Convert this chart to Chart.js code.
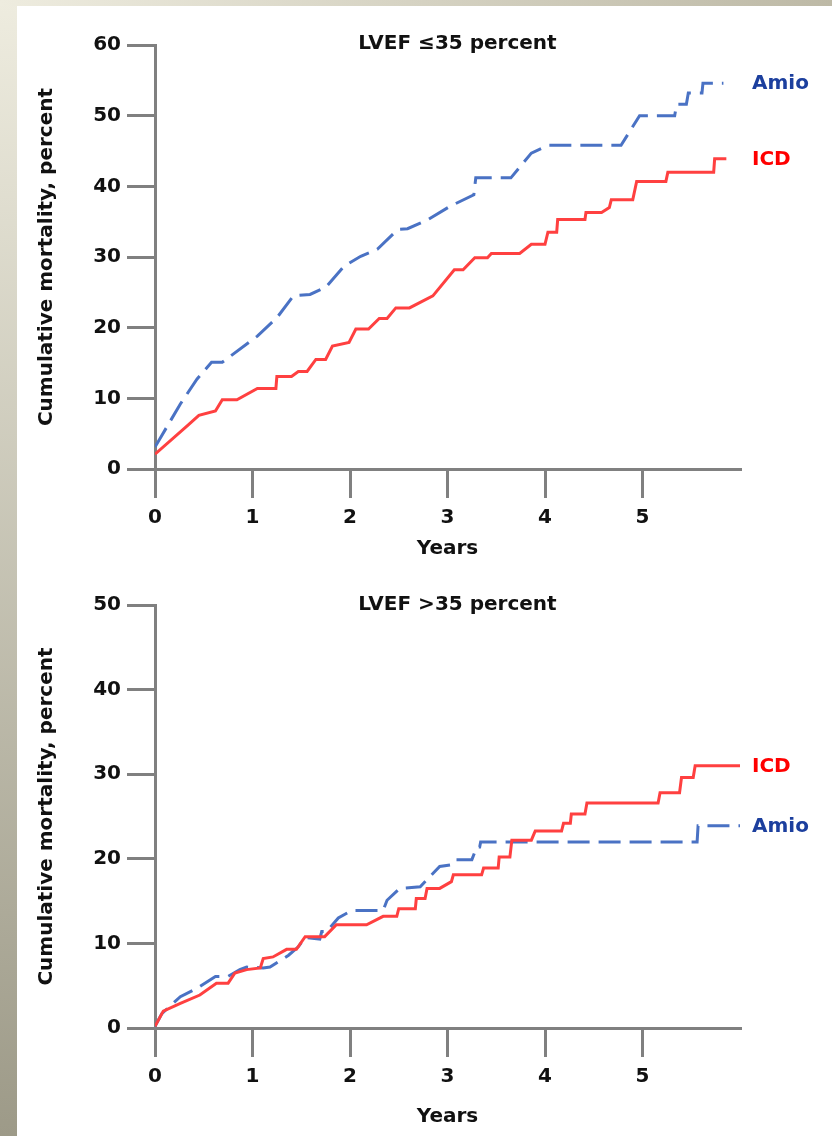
<!DOCTYPE html>
<html>
<head>
<meta charset="utf-8">
<script src="https://cdn.jsdelivr.net/npm/chart.js@4.4.1/dist/chart.umd.min.js"></script>
<style>
  html,body{margin:0;padding:0;}
  body{width:832px;height:1136px;position:relative;overflow:hidden;
       background:linear-gradient(to bottom,#eeecdf,#9d9a88);}
  #topstrip{position:absolute;left:0;top:0;width:832px;height:6px;
       background:linear-gradient(to right,#eeecdf,#bdb9a6);}
  #panel{position:absolute;left:17px;top:6px;width:815px;height:1130px;background:#fff;}
  canvas{position:absolute;left:0;}
</style>
</head>
<body>
<div id="topstrip"></div>
<div id="panel"></div>
<canvas id="c1" width="832" height="568" style="top:0"></canvas>
<canvas id="c2" width="832" height="568" style="top:568px"></canvas>
<script>
// ---------- DATA ----------
const xTicks = [0, 1, 2, 3, 4, 5];
const seriesNames = ["Amio", "ICD"];
const titleTop = "LVEF \u226435 percent";
const titleBottom = "LVEF >35 percent";
const yTitle = "Cumulative mortality, percent";
const xTitle = "Years";

// LVEF <=35 percent
const topAmioYears = [0,0.26,0.43,0.58,0.69,0.98,1.05,1.25,1.42,1.59,1.75,1.94,2.11,2.28,2.49,2.59,2.80,3.03,3.27,3.29,3.65,3.86,4.03,4.78,4.97,5.33,5.35,5.45,5.47,5.61,5.62,5.83];
const topAmioMort  = [3.1,9.2,12.7,15.1,15.1,18.1,18.8,21.4,24.5,24.7,25.7,28.7,30.1,31.1,33.9,34.0,35.3,37.2,38.8,41.2,41.2,44.7,45.8,45.8,50.0,50.0,51.6,51.6,53.2,53.2,54.6,54.6];
const topICDYears  = [0,0.33,0.45,0.62,0.69,0.84,1.05,1.24,1.25,1.40,1.47,1.56,1.65,1.75,1.82,1.99,2.06,2.19,2.30,2.38,2.47,2.61,2.85,3.07,3.16,3.28,3.41,3.45,3.74,3.86,4.00,4.03,4.12,4.13,4.41,4.42,4.58,4.66,4.68,4.90,4.94,5.24,5.26,5.73,5.74,5.86];
const topICDMort   = [2.1,6.1,7.6,8.2,9.8,9.8,11.4,11.4,13.1,13.1,13.8,13.8,15.5,15.5,17.4,17.9,19.8,19.8,21.3,21.3,22.8,22.8,24.5,28.2,28.2,29.9,29.9,30.5,30.5,31.8,31.8,33.5,33.5,35.3,35.3,36.3,36.3,37.0,38.1,38.1,40.7,40.7,42.0,42.0,43.9,43.9];

// LVEF >35 percent
const botAmioYears = [0,0.07,0.26,0.43,0.62,0.75,0.87,0.94,1.11,1.18,1.37,1.47,1.54,1.69,1.71,1.76,1.88,2.02,2.34,2.38,2.51,2.72,2.92,3.04,3.08,3.25,3.30,3.33,3.34,5.56,5.57,6.0];
const botAmioMort  = [0.2,1.7,3.7,4.7,6.1,6.1,6.9,7.2,7.1,7.2,8.6,9.6,10.7,10.5,11.4,11.4,13.0,13.9,13.9,15.1,16.5,16.7,19.1,19.3,19.9,19.9,21.4,21.4,22.0,22.0,23.9,23.9];
const botICDYears  = [0,0.085,0.26,0.46,0.63,0.75,0.82,0.94,1.08,1.11,1.21,1.35,1.45,1.54,1.74,1.86,2.17,2.34,2.48,2.50,2.67,2.68,2.77,2.79,2.92,3.04,3.06,3.35,3.37,3.52,3.53,3.64,3.66,3.86,3.90,4.17,4.19,4.26,4.27,4.41,4.43,5.16,5.18,5.38,5.40,5.52,5.54,6.0];
const botICDMort   = [0.2,2.0,2.9,3.9,5.3,5.3,6.5,6.9,7.1,8.2,8.4,9.3,9.3,10.8,10.8,12.2,12.2,13.2,13.2,14.1,14.1,15.3,15.3,16.5,16.5,17.3,18.1,18.1,18.9,18.9,20.2,20.2,22.2,22.2,23.3,23.3,24.2,24.2,25.3,25.3,26.6,26.6,27.8,27.8,29.6,29.6,31.0,31.0];

// ---------- RENDER ----------
const FONT = "'DejaVu Sans', Verdana, sans-serif";
const AXIS = "#808080";
const TEXT = "#111111";
const AMIO_LINE = "#4a72c4", AMIO_TEXT = "#1c3f9e";
const ICD_LINE = "#ff4040",  ICD_TEXT = "#ff0000";

function pts(xs, ys){ return xs.map((x,i)=>({x:x, y:ys[i]})); }

const annotPlugin = {
  id: 'annot',
  afterDraw(chart, args, opts){
    const {ctx, chartArea, scales} = chart;
    ctx.save();
    ctx.font = "bold 20px " + FONT;
    ctx.textBaseline = 'middle';
    ctx.textAlign = 'center';
    ctx.fillStyle = TEXT;
    ctx.fillText(opts.title, (chartArea.left + chartArea.right)/2 + 10, chartArea.top + opts.titleDy);
    ctx.textAlign = 'left';
    chart.data.datasets.forEach(ds=>{
      const last = ds.data[ds.data.length-1];
      ctx.fillStyle = ds.labelColor;
      ctx.fillText(ds.label, scales.x.getPixelForValue(6) + 12, scales.y.getPixelForValue(last.y) + 1);
    });
    ctx.restore();
  }
};

function makeChart(id, title, titleDy, ymax, padTop, xAxisH, datasets){
  return new Chart(document.getElementById(id), {
    type: 'line',
    data: { datasets: datasets },
    options: {
      responsive: false,
      animation: false,
      events: [],
      layout: { padding: { left: 0, top: padTop, right: 92, bottom: 0 } },
      elements: { point: { radius: 0 }, line: { tension: 0 } },
      plugins: {
        legend: { display: false },
        tooltip: { enabled: false },
        annot: { title: title, titleDy: titleDy }
      },
      scales: {
        x: {
          type: 'linear', min: 0, max: 6,
          afterBuildTicks: ax => { ax.ticks = xTicks.map(v=>({value:v})); },
          afterFit: sc => { sc.height = xAxisH; },
          ticks: { stepSize: 1, color: TEXT, padding: 8, font: { family: FONT, weight: 'bold', size: 20 } },
          grid: { drawOnChartArea: false, drawTicks: true, tickLength: 29, lineWidth: 3, color: AXIS },
          border: { display: true, color: AXIS, width: 3 },
          title: { display: true, text: xTitle, color: TEXT, padding: { top: 0, bottom: 7 },
                   font: { family: FONT, weight: 'bold', size: 20 } }
        },
        y: {
          type: 'linear', min: 0, max: ymax,
          afterFit: sc => { sc.width = 155; },
          ticks: { stepSize: 10, color: TEXT, padding: 6, font: { family: FONT, weight: 'bold', size: 20 } },
          grid: { drawOnChartArea: false, drawTicks: true, tickLength: 28, lineWidth: 3, color: AXIS },
          border: { display: true, color: AXIS, width: 3 },
          title: { display: true, text: yTitle, color: TEXT, padding: { top: 35, bottom: 0 },
                   font: { family: FONT, weight: 'bold', size: 20 } }
        }
      }
    },
    plugins: [annotPlugin]
  });
}

function ds(name, xs, ys, dashed){
  return {
    label: name,
    data: pts(xs, ys),
    borderColor: dashed ? AMIO_LINE : ICD_LINE,
    labelColor: dashed ? AMIO_TEXT : ICD_TEXT,
    borderWidth: 3,
    borderDash: dashed ? [22, 9] : [],
    fill: false
  };
}

makeChart('c1', titleTop, -1, 60, 45, 99, [
  ds(seriesNames[0], topAmioYears, topAmioMort, true),
  ds(seriesNames[1], topICDYears, topICDMort, false)
]);
makeChart('c2', titleBottom, 0, 50, 37, 108, [
  ds(seriesNames[1], botICDYears, botICDMort, false),
  ds(seriesNames[0], botAmioYears, botAmioMort, true)
]);
</script>
</body>
</html>
